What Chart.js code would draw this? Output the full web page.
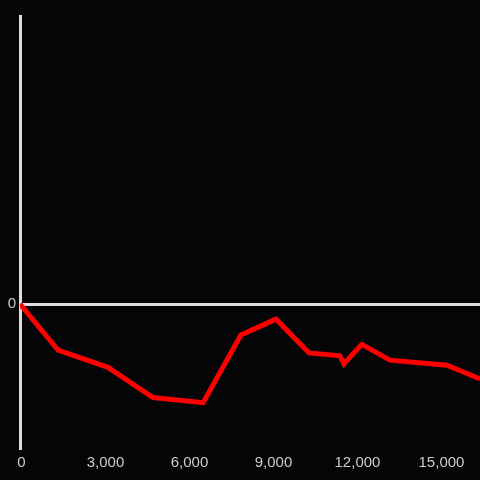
<!DOCTYPE html>
<html>
<head>
<meta charset="utf-8">
<script src="https://cdn.jsdelivr.net/npm/chart.js@4/dist/chart.umd.min.js"></script>
<style>
html,body{margin:0;padding:0;background:#050407;}
#wrap{width:480px;height:480px;}
</style>
</head>
<body>
<div id="wrap"><canvas id="c" width="480" height="480"></canvas></div>
<script>
const xValues = [0, 1360, 3140, 4750, 6540, 7890, 9140, 10320, 11430, 11570, 12210, 13210, 15250, 16430];
const yValues = [0, -0.32, -0.44, -0.65, -0.685, -0.215, -0.105, -0.34, -0.36, -0.415, -0.28, -0.39, -0.425, -0.52];
const xTicks = [0, 3000, 6000, 9000, 12000, 15000];
const yTicks = [0];

const pts = xValues.map((x, i) => ({x: x, y: yValues[i]}));
const fmt = v => v.toLocaleString('en-US');

new Chart(document.getElementById('c'), {
  type: 'line',
  data: {
    datasets: [{
      data: pts,
      borderColor: '#ff0000',
      borderWidth: 5,
      pointRadius: 0,
      tension: 0,
      fill: false,
      borderJoinStyle: 'miter'
    }]
  },
  options: {
    responsive: false,
    animation: false,
    layout: {padding: {top: 16, right: 0, left: 0, bottom: 0}},
    plugins: {legend: {display: false}, tooltip: {enabled: false}},
    scales: {
      x: {
        type: 'linear',
        min: 0,
        max: 16430,
        afterBuildTicks: s => { s.ticks = xTicks.map(v => ({value: v})); },
        afterFit: s => { s.height = 32; },
        border: {display: false},
        grid: {display: false, drawTicks: false},
        ticks: {
          color: '#cccccc',
          font: {family: 'Liberation Sans, Arial, sans-serif', size: 15},
          padding: 6,
          labelOffset: 1.5,
          autoSkip: false,
          maxRotation: 0,
          callback: v => fmt(v)
        }
      },
      y: {
        min: -1,
        max: 2,
        afterBuildTicks: s => { s.ticks = yTicks.map(v => ({value: v})); },
        afterFit: s => { s.width = 20; },
        border: {display: true, color: '#dddddd', width: 3},
        grid: {
          drawTicks: false,
          color: ctx => (ctx.tick && ctx.tick.value === 0) ? '#dddddd' : 'rgba(0,0,0,0)',
          lineWidth: 3
        },
        ticks: {
          color: '#cccccc',
          font: {family: 'Liberation Sans, Arial, sans-serif', size: 15},
          padding: 4,
          callback: v => String(v)
        }
      }
    }
  }
});
</script>
</body>
</html>
